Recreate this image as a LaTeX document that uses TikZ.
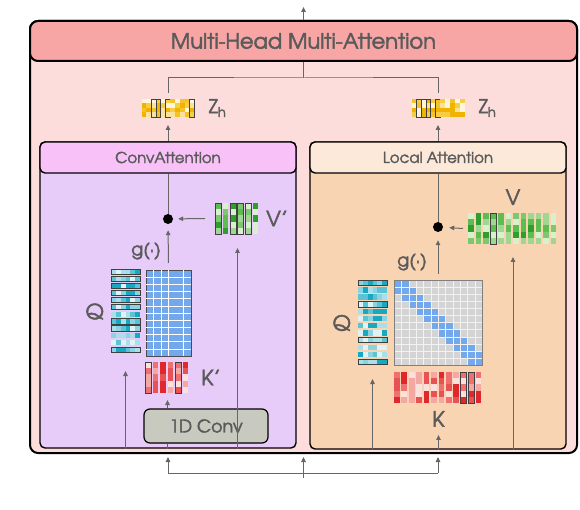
\documentclass[tikz,border=0pt]{standalone}
\usepackage{fontspec}
\setmainfont{texgyreadventor}[Extension=.otf, UprightFont=*-regular, FakeBold=2.2]
\usetikzlibrary{arrows.meta,positioning,calc}
\definecolor{titlered}{HTML}{F8A6A5}
\definecolor{outerpink}{HTML}{FCDDDC}
\definecolor{convhead}{HTML}{F8C2F9}
\definecolor{convbody}{HTML}{E7CBF9}
\definecolor{localhead}{HTML}{FDE9DA}
\definecolor{localbody}{HTML}{F9D4B3}
\definecolor{convgray}{HTML}{C9CABF}
\definecolor{txtgray}{HTML}{5A5A5A}
\definecolor{arrowgray}{HTML}{666666}
\definecolor{attblue}{HTML}{74A8EC}
\definecolor{attgray}{HTML}{D4D4D4}
% matrix palettes (dark to light, 5 = mid again)
\definecolor{q1}{HTML}{17A9C4}
\definecolor{q2}{HTML}{5CC3D5}
\definecolor{q3}{HTML}{A8DFE9}
\definecolor{q4}{HTML}{DDF3F6}
\definecolor{q5}{HTML}{8AD3E0}
\definecolor{k1}{HTML}{E0282C}
\definecolor{k2}{HTML}{EE7070}
\definecolor{k3}{HTML}{F4A8A4}
\definecolor{k4}{HTML}{FBE0DC}
\definecolor{k5}{HTML}{E85252}
\definecolor{v1}{HTML}{2E9F2E}
\definecolor{v2}{HTML}{5DBD4E}
\definecolor{v3}{HTML}{A0D592}
\definecolor{v4}{HTML}{D8F0CE}
\definecolor{v5}{HTML}{7CC86C}
\definecolor{z1}{HTML}{EFB300}
\definecolor{z2}{HTML}{F6CD45}
\definecolor{z3}{HTML}{FAE29C}
\definecolor{z4}{HTML}{FFF5DA}
\definecolor{z5}{HTML}{F4C32A}

\begin{document}
\begin{tikzpicture}[
        x=1pt, y=-1pt,
        panel/.style={draw=black, line width=1.4pt, rounded corners=5pt},
        head/.style={panel, font=\fontsize{15}{17}\selectfont, text=txtgray},
        mat/.style={inner sep=0pt, outer sep=0pt},
        lbl/.style={inner sep=0pt, text=txtgray, font=\fontsize{21}{24}\selectfont},
        edgeline/.style={draw=black!75, line width=0.6pt},
        gridline/.style={draw=white!70!attgray, line width=0.3pt},
        wire/.style={draw=arrowgray, line width=1pt},
        arrow/.style={-{Triangle[length=5pt,width=4.5pt]}, draw=arrowgray, line width=1pt}
    ]
    \useasboundingbox (0,0) rectangle (580,510);
    \pgfmathsetseed{11}

    % frames
    \node[panel, line width=2pt, rounded corners=8pt, fill=outerpink, minimum width=547pt, minimum height=432pt] (outer) at (303.5,237) {};
    \node[panel, line width=2pt, rounded corners=8pt, fill=titlered, minimum width=547pt, minimum height=40pt,
          text=txtgray, font=\fontsize{21}{24}\selectfont] (title) at (303.5,41) {Multi-Head Multi-Attention};
    \node[panel, fill=convbody, minimum width=256pt, minimum height=306pt] (lbody) at (168,295) {};
    \node[head, fill=convhead, minimum width=256pt, minimum height=31pt] (lhead) at (168,157.5) {ConvAttention};
    \node[panel, fill=localbody, minimum width=256pt, minimum height=307pt] (rbody) at (438,295.5) {};
    \node[head, fill=localhead, minimum width=256pt, minimum height=31pt] (rhead) at (438,157.5) {Local Attention};
    \node[panel, line width=1.2pt, rounded corners=6pt, fill=convgray, minimum width=124pt, minimum height=34pt,
          text=txtgray, font=\fontsize{17.5}{20}\selectfont] (conv) at (206,426) {1D Conv};

    % matrices
    \node[mat, minimum width=53pt, minimum height=18pt] (zl) at (168,108) {};
    \node[mat, minimum width=53pt, minimum height=18pt] (zr) at (438,108) {};
    \node[mat, minimum width=29pt, minimum height=85pt] (ql) at (125.5,311.5) {};
    \node[mat, minimum width=29pt, minimum height=86pt] (qr) at (372.5,323) {};
    \node[mat, minimum width=45pt, minimum height=31pt] (kl) at (167.5,377.5) {};
    \node[mat, minimum width=89pt, minimum height=31pt] (kr) at (438.5,387.5) {};
    \node[mat, minimum width=45pt, minimum height=31pt] (vl) at (237.5,218.5) {};
    \node[mat, minimum width=90pt, minimum height=31pt] (vr) at (513,228.5) {};
    \node[mat, draw=black!70, line width=0.8pt, fill=attblue, minimum width=45pt, minimum height=86pt] (attl) at (168.5,313) {};
    \node[mat, draw=gray, line width=0.8pt, fill=attgray, minimum width=88pt, minimum height=85pt] (attr) at (438,322.5) {};

    \foreach \m/\nc/\nr/\w/\h/\p/\f in {vl/6/5/45/31/v/0.78, vr/12/5/90/31/v/0.78, kl/6/5/45/31/k/0.78,
                                        kr/12/5/89/31/k/0.78, zl/11/4/53/18/z/1, zr/11/4/53/18/z/1}{
        \begin{scope}[shift={(\m.north west)}]
            \foreach \c in {1,...,\nc}{
                \pgfmathsetmacro\cw{\w/\nc}
                \foreach \r in {1,...,\nr}{
                    \pgfmathrandominteger{\k}{1}{5}
                    \fill[fill=\p\k] ({(\c-1)*\cw},{(\r-1)*\h/\nr}) rectangle ++({\cw*\f},{\h/\nr});
                }
                \pgfmathrandominteger{\o}{0}{2}
                \ifnum\o=0 \draw[edgeline] ({(\c-1)*\cw},0) rectangle ++({\cw*\f},\h); \fi
            }
        \end{scope}
    }
    \foreach \m/\h in {ql/85, qr/86}{
        \begin{scope}[shift={(\m.north west)}]
            \foreach \r in {1,...,12}{
                \foreach \c in {1,...,6}{
                    \pgfmathrandominteger{\k}{1}{5}
                    \fill[fill=q\k] ({(\c-1)*29/6},{(\r-1)*\h/12}) rectangle ++({29/6},{\h/12*0.75});
                }
                \pgfmathrandominteger{\o}{0}{1}
                \ifnum\o=0 \draw[edgeline] (0,{(\r-1)*\h/12}) rectangle ++(29,{\h/12*0.75}); \fi
            }
        \end{scope}
    }
    \begin{scope}[shift={(attl.north west)}]
        \foreach \r in {1,...,11} \draw[white, line width=0.5pt] (0,{\r*86/12}) -- ++(45,0);
        \foreach \x in {7,15,22,37} \draw[white, line width=0.5pt] (\x,0) -- ++(0,86);
    \end{scope}
    \begin{scope}[shift={(attr.north west)}]
        \foreach \r in {0,...,11}
            \fill[attblue] ({max(\r-1,0)*88/12},{\r*85/12}) rectangle ({(min(\r+1,11)+1)*88/12},{(\r+1)*85/12});
        \foreach \i in {1,...,11} {
            \draw[gridline] ({\i*88/12},0) -- ++(0,85);
            \draw[gridline] (0,{\i*85/12}) -- ++(88,0);
        }
    \end{scope}
    \draw[gray, line width=0.8pt] (attr.north west) rectangle (attr.south east);

    % labels
    \node[lbl, font=\fontsize{19}{22}\selectfont, right=14pt of zl] (zlab) {Z\textsubscript{h}};
    \node[lbl, font=\fontsize{19}{22}\selectfont, right=14pt of zr] (zrlab) {Z\textsubscript{h}};
    \node[lbl, left=7pt of ql] (qlab) {Q};
    \node[lbl, left=7pt of qr] (qrlab) {Q};
    \node[lbl, right=11pt of kl] (klab) {K’};
    \node[lbl, below=8pt of kr] (krlab) {K};
    \node[lbl, right=6pt of vl] (vlab) {V’};
    \node[lbl, above=8pt of vr] (vrlab) {V};
    \node[lbl, font=\fontsize{18}{21}\selectfont] (gl) at (146,251) {g(·)};
    \node[lbl, font=\fontsize{18}{21}\selectfont] (gr) at (412,262) {g(·)};
    \node[circle, fill=black, inner sep=0pt, minimum size=10pt] (dotl) at (168,219) {};
    \node[circle, fill=black, inner sep=0pt, minimum size=10pt] (dotr) at (438,227) {};

    % connectors
    \coordinate (top) at (303.5,7);
    \coordinate (split) at (303.5,78);
    \coordinate (inl) at (168,473);
    \coordinate (inm) at (303.5,473);
    \coordinate (inr) at (438,473);
    \coordinate (inb) at (303.5,478);
    \draw[arrow] (title.north) -- (top);
    \draw[wire] (title.south) -- (split);
    \draw[wire] ([yshift=6pt]zl.north) |- (split) -| ([yshift=6pt]zr.north);
    \draw[arrow] (lhead.north) -- ([yshift=-8pt]zl.south);
    \draw[arrow] (rhead.north) -- ([yshift=-8pt]zr.south);

    \draw[wire] (lhead.south) -- (dotl);
    \draw[arrow, shorten >=5pt] ([xshift=-10pt]vl.west) -- (dotl);
    \draw[arrow, shorten <=7pt, shorten >=6pt] (attl.north) -- (dotl);
    \draw[arrow] (ql.south |- lbody.south) -- ([yshift=-17pt]ql.south);
    \draw[arrow] (vl.south |- lbody.south) -- ([yshift=-14pt]vl.south);
    \draw[arrow] (kl.south |- conv.north) -- ([yshift=-7pt]kl.south);
    \draw[wire] (kl.south |- lbody.south) -- (kl.south |- conv.south);

    \draw[wire] (rhead.south) -- (dotr);
    \draw[arrow, shorten >=6pt] ([xshift=-5pt]vr.west) -- (dotr);
    \draw[arrow, shorten <=6pt, shorten >=8pt] (attr.north) -- (dotr);
    \draw[arrow] (qr.south |- rbody.south) -- ([yshift=-13pt]qr.south);
    \draw[arrow] (vr.south |- rbody.south) -- ([yshift=-13pt]vr.south);
    \draw[arrow, shorten >=8pt] (krlab.south |- rbody.south) -- (krlab.south);

    \draw[wire] (inl) -- (inr);
    \draw[wire] (inb) -- (inm);
    \draw[arrow, shorten >=3pt] (inl) -- (inl |- outer.south);
    \draw[arrow, shorten >=3pt] (inm) -- (inm |- outer.south);
    \draw[arrow, shorten >=3pt] (inr) -- (inr |- outer.south);
\end{tikzpicture}
\end{document}
